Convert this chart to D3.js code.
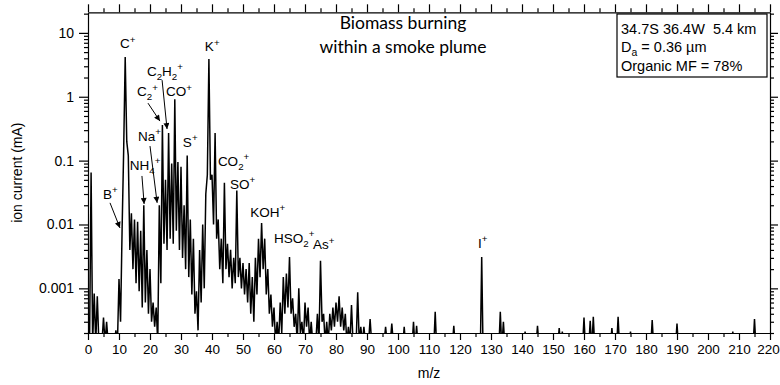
<!DOCTYPE html>
<html><head><meta charset="utf-8">
<script src="https://cdn.jsdelivr.net/npm/d3@7"></script>
<style>
html,body{margin:0;padding:0;background:#fff;}
svg{display:block;font-family:"Liberation Sans",Arial,sans-serif;}
</style></head>
<body><svg id="chart" width="780" height="385"></svg>
<script>
// ---- data ----
// Peak intensity (mA) at each integer m/z 0..100 (0 = below axis)
const peakVal = [
 0.00028,0.065,0.00083,0.00075,0,0.00035,0.0003,0,0,0.00022,
 0.0014,0.0083,4.2,0.12,0.015,0.012,0.011,0.008,0.02,0.004,
 0.002,0.0006,0.0005,0.02,0.36,0.05,0.27,0.09,0.91,0.095,
 0.08,0.02,0.12,0.012,0.006,0.0009,0.004,0.01,0.03,3.9,
 0.06,0.27,0.012,0.006,0.045,0.005,0.004,0.003,0.034,0.003,
 0.0025,0.002,0.0025,0.0015,0.003,0.006,0.0105,0.006,0.002,0.0008,
 0.0005,0.0003,0.0006,0.0015,0.0017,0.0031,0.0007,0.0004,0.001,0.0003,
 0.0006,0.0005,0.0003,0,0.0004,0.0027,0.0004,0.0003,0.0004,0.0005,
 0.0006,0.00075,0.0005,0.0004,0.00025,0.00055,0,0.00087,0.00025,0.00025,
 0,0.00033,0,0,0,0,0.00025,0,0.00028,0,0
];
// Trough intensity at each half-integer m/z 0.5..99.5
const troughVal = [
 0,0,0,0,0,0,0,0,0,0,
 0.0003,0.14,0.2,0.004,0.002,0.0012,0.0009,0.0005,0.0006,0.0004,
 0.0003,0.00025,0,0.0012,0.005,0.004,0.006,0.005,0.008,0.004,
 0.003,0.002,0.0015,0.0008,0.0004,0.00022,0.0006,0.001,0.06,0.05,
 0.01,0.006,0.002,0.0012,0.002,0.0015,0.001,0.0012,0.0015,0.001,
 0.0008,0.0006,0.0004,0.0003,0.0008,0.0015,0.002,0.0008,0.0004,0.00025,
 0,0,0.0002,0.0004,0.0005,0.0004,0.00025,0,0.0002,0,
 0.00025,0,0,0,0,0.0003,0,0,0.00022,0.00025,
 0.0003,0.00025,0.00022,0,0,0,0,0,0,0,
 0,0,0,0,0,0,0,0,0,0
];
// Isolated peaks above m/z 100
const highMz  = [102,105,106,112,118,127,133,134,141,145,152,153,160,162,163,169,171,175,182,190,208,215];
const highVal = [0.00025,0.0003,0.00026,0.00043,0.00026,0.0031,0.00043,0.0003,0.00021,0.00026,0.00024,0.00021,0.00035,0.00031,0.00036,0.00024,0.00036,0.00021,0.00032,0.00028,0.00021,0.00033];

const xTickLabels = ["0","10","20","30","40","50","60","70","80","90","100","110","120","130","140","150","160","170","180","190","200","210","220"];
const yTickLabels = ["0.001","0.01","0.1","1","10"];

// peak labels: text markup, anchor m/z, anchor value
const labelText = ["C^+","K^+","C_2H_2^+","C_2^+","CO^+","Na^+","S^+","NH_4^+","CO_2^+","SO^+","B^+","KOH^+","HSO_2^+","As^+","I^+"];
const labelMz   = [10.3,37.7,19.0,15.8,25.2,16.1,30.6,13.5,41.9,45.8,4.8,52.3,60.0,72.6,125.8];
const labelVal  = [5.75,5.16,2.1,1.02,1.02,0.202,0.163,0.0713,0.0824,0.036,0.025,0.0132,0.0051,0.0041,0.0043];
// arrows: from (m/z, value) to (m/z, value)
const arrowFromMz = [7.1,17.4,20.0,19.35,23.9];
const arrowFromV  = [0.0218,0.0575,0.169,0.794,1.82];
const arrowToMz   = [10.3,18.1,22.3,23.2,25.5];
const arrowToV    = [0.00885,0.021,0.0218,0.416,0.312];

const titleLines = ["Biomass burning","within a smoke plume"];
const infoLines = ["34.7S 36.4W\u00a0\u00a05.4 km","D_a = 0.36 \u00b5m","Organic MF = 78%"];

// ---- drawing ----
const svg = d3.select("#chart");
const L = 88, R = 770, T = 12.3, B = 333;
const yMin = 0.0002, yMax = 21;
const x = d3.scaleLinear().domain([0,220]).range([L,R]);
const y = d3.scaleLog().domain([yMin,yMax]).range([B,T]);

function rich(sel, markup, size){
  let i=0;
  const parts=[];
  while(i<markup.length){
    const c=markup[i];
    if(c==='_'||c==='^'){ parts.push({t:markup[i+1],m:c}); i+=2; }
    else { if(parts.length && parts[parts.length-1].m===null) parts[parts.length-1].t+=c; else parts.push({t:c,m:null}); i++; }
  }
  let shift=0;
  parts.forEach(p=>{
    let target = p.m==='_'?size*0.3:(p.m==='^'?-size*0.42:0);
    const ts = sel.append("tspan").attr("dy",target-shift).text(p.t);
    if(p.m) ts.attr("font-size",size*0.72);
    shift=target;
  });
}

// clip
svg.append("clipPath").attr("id","clip").append("rect")
  .attr("x",L).attr("y",T).attr("width",R-L).attr("height",B-T);

// build trace
const pts=[];
peakVal.forEach((v,m)=>{ pts.push([m,v]); if(m<troughVal.length) pts.push([m+0.5,troughVal[m]]); });
highMz.forEach((m,i)=>{ pts.push([m-0.4,0]); pts.push([m,highVal[i]]); pts.push([m+0.4,0]); });
pts.sort((a,b)=>a[0]-b[0]);
const line = d3.line().x(d=>x(d[0])).y(d=>y(Math.max(d[1],yMin*0.7)));
svg.append("path").attr("d",line(pts)).attr("clip-path","url(#clip)")
  .attr("fill","none").attr("stroke","#000").attr("stroke-width",1.5).attr("stroke-linejoin","miter");

// axes
const xMajor = xTickLabels.map(Number);
const xMinor = d3.range(5,220,10);
const yMajor = yTickLabels.map(Number);
const yMinor = [];
[0.0001,0.001,0.01,0.1,1,10].forEach(d=>{ for(let k=2;k<=9;k++){ const v=d*k; if(v>=yMin&&v<=yMax) yMinor.push(v);} });

function styleAxis(g){
  g.selectAll("path,line").attr("stroke","#000").attr("stroke-width",1.2);
  g.selectAll("text").attr("font-family","'Liberation Sans',Arial,sans-serif").attr("font-size",14).attr("fill","#000");
}
const gx = svg.append("g").attr("transform",`translate(0,${B})`)
  .call(d3.axisBottom(x).tickValues(xMajor).tickFormat((d,i)=>xTickLabels[i]).tickSize(7).tickSizeOuter(0).tickPadding(4));
styleAxis(gx);
gx.selectAll("text").attr("font-size",13.5);
gx.selectAll(".tick").filter((d,i,n)=>i===n.length-1).select("text").attr("dx",-2);
svg.append("g").attr("transform",`translate(0,${B})`).call(d3.axisBottom(x).tickValues(xMinor).tickFormat("").tickSize(4).tickSizeOuter(0)).call(styleAxis).select(".domain").remove();
const gt = svg.append("g").attr("transform",`translate(0,${T})`)
  .call(d3.axisTop(x).tickValues(xMajor).tickFormat("").tickSize(8).tickSizeOuter(0));
styleAxis(gt);
svg.append("g").attr("transform",`translate(0,${T})`).call(d3.axisTop(x).tickValues(xMinor).tickFormat("").tickSize(4).tickSizeOuter(0)).call(styleAxis).select(".domain").remove();

const gy = svg.append("g").attr("transform",`translate(${L},0)`)
  .call(d3.axisLeft(y).tickValues(yMajor).tickFormat((d,i)=>yTickLabels[i]).tickSize(9).tickSizeOuter(0).tickPadding(5));
styleAxis(gy);
svg.append("g").attr("transform",`translate(${L},0)`).call(d3.axisLeft(y).tickValues(yMinor).tickFormat("").tickSize(4).tickSizeOuter(0)).call(styleAxis).select(".domain").remove();
const gr = svg.append("g").attr("transform",`translate(${R},0)`)
  .call(d3.axisRight(y).tickValues(yMajor).tickFormat("").tickSize(8).tickSizeOuter(0));
styleAxis(gr);
svg.append("g").attr("transform",`translate(${R},0)`).call(d3.axisRight(y).tickValues(yMinor).tickFormat("").tickSize(4).tickSizeOuter(0)).call(styleAxis).select(".domain").remove();

// axis titles
svg.append("text").attr("x",x(110)).attr("y",378).attr("text-anchor","middle").attr("font-size",14).text("m/z");
svg.append("text").attr("transform",`translate(22,${(T+B)/2}) rotate(-90)`).attr("text-anchor","middle").attr("font-size",14).text("ion current (mA)");

// title
titleLines.forEach((t,i)=>{
  svg.append("text").attr("x",403).attr("y",29+i*23.5).attr("text-anchor","middle")
    .attr("font-family","Lato,'Open Sans',sans-serif").attr("font-size",17.5).text(t);
});

// info box
svg.append("rect").attr("x",617).attr("y",14).attr("width",150).attr("height",63)
  .attr("fill","#fff").attr("stroke","#000").attr("stroke-width",1.2);
infoLines.forEach((t,i)=>{
  const tx = svg.append("text").attr("x",621).attr("y",33.5+i*18.5).attr("font-size",14.5);
  rich(tx,t,14.5);
});

// peak labels
labelText.forEach((t,i)=>{
  const tx = svg.append("text").attr("x",x(labelMz[i])).attr("y",y(labelVal[i])).attr("font-size",13.5);
  rich(tx,t,13.5);
});

// arrows
const defs = svg.append("defs");
defs.append("marker").attr("id","ah").attr("viewBox","0 0 10 10").attr("refX",10).attr("refY",5)
  .attr("markerWidth",9).attr("markerHeight",6).attr("markerUnits","userSpaceOnUse").attr("orient","auto")
  .append("path").attr("d","M0,0 L10,5 L0,10 Z").attr("fill","#000");
arrowFromMz.forEach((m,i)=>{
  svg.append("line").attr("x1",x(m)).attr("y1",y(arrowFromV[i]))
    .attr("x2",x(arrowToMz[i])).attr("y2",y(arrowToV[i]))
    .attr("stroke","#000").attr("stroke-width",1).attr("marker-end","url(#ah)");
});
</script></body></html>
